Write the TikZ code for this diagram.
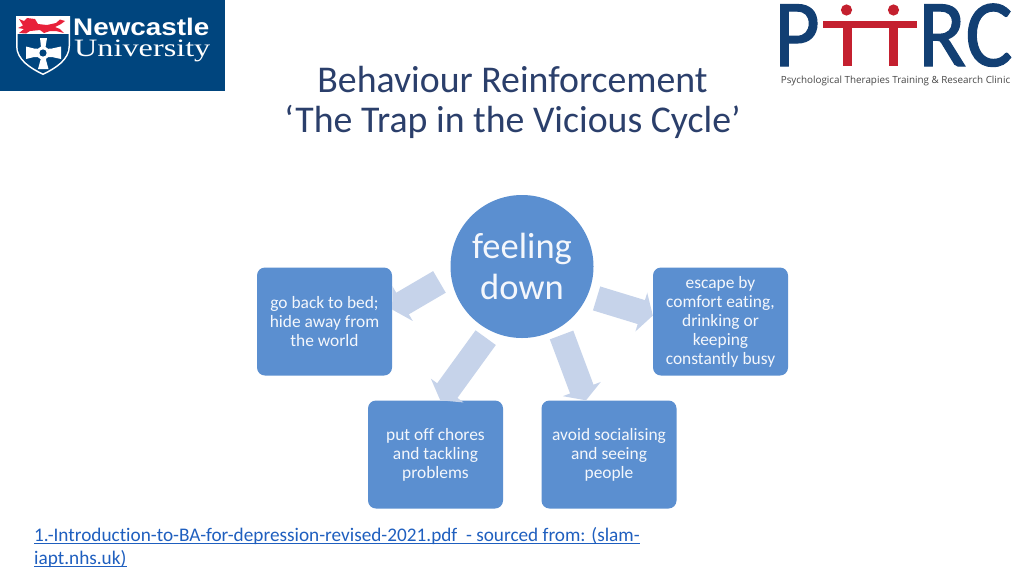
\documentclass[tikz,border=0pt]{standalone}
\usepackage{fontspec}
\setmainfont[Ligatures=NoCommon]{Carlito}
\newfontfamily\logosans{Liberation Sans}
\newfontfamily\logoserif{Liberation Serif}
\newfontfamily\tagfont{Open Sans}
\newfontfamily\ptfont[FakeBold=1.2]{Carlito}
\usetikzlibrary{arrows.meta,calc}
\definecolor{boxblue}{HTML}{5B8FD0}
\definecolor{arrowblue}{HTML}{C6D3EA}
\definecolor{titleblue}{HTML}{2B3F6B}
\definecolor{linkblue}{HTML}{1F5FBF}
\definecolor{nublue}{HTML}{00457E}
\definecolor{nured}{HTML}{E8213A}
\definecolor{ptblue}{HTML}{123F73}
\definecolor{ptred}{HTML}{C4202F}
\tikzset{
  stepbox/.style={draw=none,fill=boxblue,rounded corners=8pt,minimum width=135pt,minimum height=108pt,
    align=center,text=white!93!boxblue,font=\fontsize{17.4}{19}\selectfont,inner sep=0pt},
  fatarrow/.style={draw=arrowblue,line width=25pt,-{Triangle[length=12pt,width=40pt]}},
  titletext/.style={text=titleblue,font=\fontsize{37.8}{40}\selectfont,align=center,inner sep=0pt},
  srctext/.style={anchor=base west,inner sep=0pt,text=linkblue,font=\fontsize{19.25}{23}\selectfont},
}
\begin{document}
\begin{tikzpicture}[x=1pt,y=-1pt]
\useasboundingbox (0,0) rectangle (1024,576);
\fill[white] (0,0) rectangle (1024,576);
% Newcastle logo
\fill[nublue] (0,0) rectangle (225,91);
\fill[white] (16,16) -- (70,16) -- (70,46) .. controls (70,60) and (56,69) .. (43,75) .. controls (30,69) and (16,60) .. (16,46) -- cycle;
\fill[nublue] (17.5,34) -- (68.5,34) -- (68.5,46) .. controls (68.5,59) and (55,67.5) .. (43,73.3) .. controls (31,67.5) and (17.5,59) .. (17.5,46) -- cycle;
\fill[nured] (19,19) -- (24,21) -- (27,18) -- (35,19) -- (38,24) -- (47,25) -- (56,23) -- (60,19.5) -- (65,21) -- (61,24) -- (55,27) -- (60,29) -- (64,33) -- (56,31) -- (50,31) -- (44,33) -- (40,30) -- (30,31) -- (26,33.5) -- (19,33) -- (24,29) -- (18,28) -- (23,25.5) -- cycle;
\fill[white] (40,38) -- (47,38) -- (45.5,47) -- (45.5,49) -- (52,48.5) -- (61,46.5) -- (61,59) -- (52,57) -- (46,57) -- (46,60) -- (48.5,69) -- (38,69) -- (40.5,60) -- (40.5,57) -- (34,57) -- (26,59) -- (26,46.5) -- (34,48.5) -- (41,49) -- (41,47) -- cycle;
\fill[white] (43,53) circle (6.5);
\fill[nublue] (43,53) circle (3.6);
\node[anchor=base west,inner sep=0pt,text=white,font=\logosans\bfseries\fontsize{24}{24}\selectfont] (nc) at (73,35) {\scalebox{1.16}[1]{Newcastle}};
\node[anchor=base west,inner sep=0pt,text=white,font=\logoserif\fontsize{25}{25}\selectfont] (nu) at (74,56.7) {\scalebox{1.29}[1]{University}};
% PTRC logo
\node[anchor=base west,inner sep=0pt,text=ptblue,font=\ptfont\fontsize{96}{96}\selectfont] (pp) at (774,66) {\scalebox{0.92}[1]{P}};
\node[anchor=base west,inner sep=0pt,text=ptblue,font=\ptfont\fontsize{96}{96}\selectfont] (rc) at (918,66) {\scalebox{0.92}[1]{RC}};
\fill[ptred] (823,21) rectangle (917,28);
\fill[ptred] (843,28) rectangle (852,66);
\fill[ptred] (889,28) rectangle (898,66);
\fill[ptred] (846.5,10) circle (5.6);
\fill[ptred] (893.5,10) circle (5.6);
\node[inner sep=0pt,text=black!72,font=\tagfont\fontsize{9.85}{11}\selectfont] (tag) at (895.5,80.5) {Psychological Therapies Training \& Research Clinic};
% Title
\node[titletext] (title) at (512.5,102) {Behaviour Reinforcement\\‘The Trap in the Vicious Cycle’};
% Diagram
\node[circle,fill=boxblue,minimum size=143pt,inner sep=0pt,align=center,text=white!93!boxblue,font=\fontsize{36.5}{41}\selectfont] (feel) at (522,266.5) {feeling\\down};
\node[stepbox] (bed) at (324.5,321.5) {go back to bed;\\hide away from\\the world};
\node[stepbox] (esc) at (720.5,321.5) {escape by\\comfort eating,\\drinking or\\keeping\\constantly busy};
\node[stepbox] (put) at (435.5,454.5) {put off chores\\and tackling\\problems};
\node[stepbox] (avoid) at (609,454.5) {avoid socialising\\and seeing\\people};
\draw[fatarrow,shorten <=13.2pt] (feel.187.9) -- (bed.10.9);
\draw[fatarrow,shorten <=9.5pt] (feel.336.5) -- (esc.175.8);
\draw[fatarrow,shorten <=8.3pt] (feel.244.8) -- (put.85);
\draw[fatarrow,shorten <=7.5pt] (feel.301.5) -- (avoid.113.3);
% Footer
\node[srctext] (src1) at (34,541) {1.-Introduction-to-BA-for-depression-revised-2021.pdf\ \ - sourced from: (slam-};
\node[srctext] (src2) at (34,564) {iapt.nhs.uk)};
\draw[linkblue,line width=0.9pt] ($(src1.base west)+(0,2.5)$) -- ($(src1.base east)+(0,2.5)$);
\draw[linkblue,line width=0.9pt] ($(src2.base west)+(0,2.5)$) -- ($(src2.base east)+(0,2.5)$);
\end{tikzpicture}
\end{document}
